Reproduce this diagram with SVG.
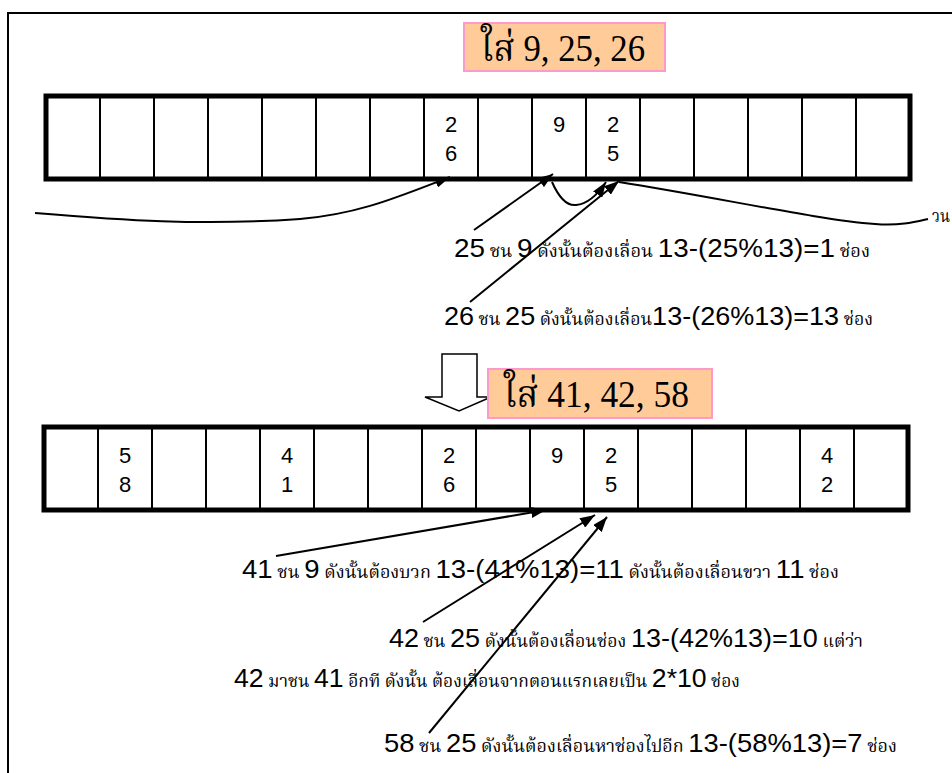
<svg xmlns="http://www.w3.org/2000/svg" width="952" height="773" viewBox="0 0 952 773">
<style>
.cell{fill:#fff;stroke:#000;stroke-width:5}
.div{stroke:#000;stroke-width:2}
.dg{font-family:"Liberation Sans",Arial,sans-serif;font-size:22px;fill:#000;text-anchor:middle}
.lbl{font-family:"Liberation Sans","Noto Sans Thai","Noto Serif Thai","DejaVu Sans",sans-serif;fill:#000}
.n{font-size:26px}
.t{font-size:17px;font-family:"Noto Serif Thai","Noto Sans Thai","DejaVu Serif",serif}
.ttl{fill:#FFCC99;stroke:#FF99CC;stroke-width:2}
.tt{font-family:"Liberation Serif","Noto Serif Thai","Noto Sans Thai",serif;font-size:37px;fill:#000}
.con{fill:none;stroke:#000;stroke-width:2}
</style>
<defs>
<marker id="ah" markerUnits="userSpaceOnUse" markerWidth="15" markerHeight="11" refX="15" refY="5.5" orient="auto">
<path d="M0,0 L15,5.5 L0,11 Z" fill="#000"/>
</marker>
</defs>
<rect width="952" height="773" fill="#fff"/>
<g id="frame">
<path d="M8,773 L8,13 L952,13" fill="none" stroke="#000" stroke-width="2"/>
</g>
<g id="title1">
<rect class="ttl" x="464" y="23" width="201" height="48"/>
<text class="tt" x="481" y="61" textLength="164" lengthAdjust="spacingAndGlyphs">ใส่ 9, 25, 26</text>
</g>
<g id="array1">
<rect class="cell" x="46" y="96" width="864" height="83"/>
<path class="div" d="M100,96V179M154,96V179M208,96V179M262,96V179M316,96V179M370,96V179M424,96V179M478,96V179M532,96V179M586,96V179M640,96V179M694,96V179M748,96V179M802,96V179M856,96V179"/>
<text class="dg" x="451" y="132">2</text><text class="dg" x="451" y="161">6</text>
<text class="dg" x="559" y="132">9</text>
<text class="dg" x="613" y="132">2</text><text class="dg" x="613" y="161">5</text>
</g>
<g id="downArrow">
<path d="M442,354 L477,354 L477,397 L491,397 L459,411 L425,397 L442,397 Z" fill="#fff" stroke="#000" stroke-width="1.5"/>
</g>
<g id="title2">
<rect class="ttl" x="488" y="369" width="224" height="49"/>
<text class="tt" x="504" y="407" textLength="185" lengthAdjust="spacingAndGlyphs">ใส่ 41, 42, 58</text>
</g>
<g id="array2">
<rect class="cell" x="44" y="427" width="864" height="83"/>
<path class="div" d="M98,427V510M152,427V510M206,427V510M260,427V510M314,427V510M368,427V510M422,427V510M476,427V510M530,427V510M584,427V510M638,427V510M692,427V510M746,427V510M800,427V510M854,427V510"/>
<text class="dg" x="125" y="463">5</text><text class="dg" x="125" y="492">8</text>
<text class="dg" x="287" y="463">4</text><text class="dg" x="287" y="492">1</text>
<text class="dg" x="449" y="463">2</text><text class="dg" x="449" y="492">6</text>
<text class="dg" x="557" y="463">9</text>
<text class="dg" x="611" y="463">2</text><text class="dg" x="611" y="492">5</text>
<text class="dg" x="827" y="463">4</text><text class="dg" x="827" y="492">2</text>
</g>
<g id="connectors">
<path class="con" d="M35,213 C120,220 200,226 300,219 C360,214 400,196 450,177" marker-end="url(#ah)"/>
<path class="con" d="M474,230 L553,174" marker-end="url(#ah)"/>
<path class="con" d="M552,182 C560,200 568,206 576,205 C588,204 598,194 606,182" marker-end="url(#ah)"/>
<path class="con" d="M470,302 L619,181" marker-end="url(#ah)"/>
<path class="con" d="M619,182 C720,198 820,220 875,224 C900,226 915,222 928,219"/>
<path class="con" d="M276,556 L546,510" marker-end="url(#ah)"/>
<path class="con" d="M423,622 L595,515" marker-end="url(#ah)"/>
<path class="con" d="M429,733 L607,517" marker-end="url(#ah)"/>
</g>
<g id="labels">
<text class="lbl" x="932" y="222" textLength="18" lengthAdjust="spacingAndGlyphs" style="font-size:18px;font-family:'Noto Serif Thai','Noto Sans Thai',serif">วน</text>
<text class="lbl" x="454" y="257" textLength="416" lengthAdjust="spacingAndGlyphs"><tspan class="n">25</tspan><tspan class="t"> ชน </tspan><tspan class="n">9</tspan><tspan class="t"> ดังนั้นต้องเลื่อน  </tspan><tspan class="n">13-(25%13)=1</tspan><tspan class="t"> ช่อง</tspan></text>
<text class="lbl" x="444" y="325" textLength="429" lengthAdjust="spacingAndGlyphs"><tspan class="n">26</tspan><tspan class="t"> ชน </tspan><tspan class="n">25</tspan><tspan class="t"> ดังนั้นต้องเลื่อน</tspan><tspan class="n">13-(26%13)=13</tspan><tspan class="t"> ช่อง</tspan></text>
<text class="lbl" x="242" y="578" textLength="597" lengthAdjust="spacingAndGlyphs"><tspan class="n">41</tspan><tspan class="t"> ชน </tspan><tspan class="n">9</tspan><tspan class="t"> ดังนั้นต้องบวก </tspan><tspan class="n">13-(41%13)=11</tspan><tspan class="t"> ดังนั้นต้องเลื่อนขวา </tspan><tspan class="n">11</tspan><tspan class="t"> ช่อง</tspan></text>
<text class="lbl" x="389" y="647" textLength="474" lengthAdjust="spacingAndGlyphs"><tspan class="n">42</tspan><tspan class="t"> ชน </tspan><tspan class="n">25</tspan><tspan class="t"> ดังนั้นต้องเลื่อนช่อง </tspan><tspan class="n">13-(42%13)=10</tspan><tspan class="t"> แต่ว่า</tspan></text>
<text class="lbl" x="234" y="687" textLength="506" lengthAdjust="spacingAndGlyphs"><tspan class="n">42</tspan><tspan class="t"> มาชน </tspan><tspan class="n">41</tspan><tspan class="t"> อีกที ดังนั้น ต้องเลื่อนจากตอนแรกเลยเป็น </tspan><tspan class="n">2*10</tspan><tspan class="t"> ช่อง</tspan></text>
<text class="lbl" x="384" y="752" textLength="513" lengthAdjust="spacingAndGlyphs"><tspan class="n">58</tspan><tspan class="t"> ชน </tspan><tspan class="n">25</tspan><tspan class="t"> ดังนั้นต้องเลื่อนหาช่องไปอีก </tspan><tspan class="n">13-(58%13)=7</tspan><tspan class="t"> ช่อง</tspan></text>
</g>
</svg>
